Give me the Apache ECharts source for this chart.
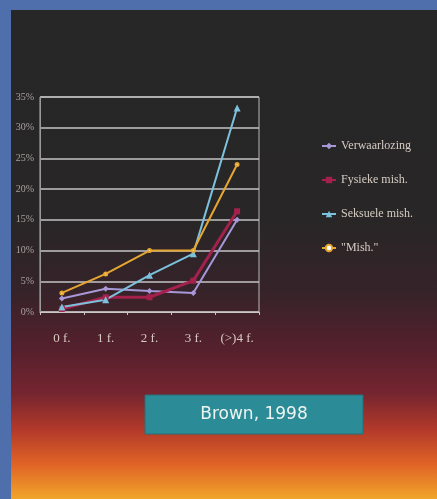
<!DOCTYPE html>
<html><head><meta charset="utf-8">
<script src="https://cdn.jsdelivr.net/npm/echarts@6/dist/echarts.min.js"></script>
<style>html,body{margin:0;padding:0;background:#272727}#c{width:437px;height:499px}</style>
</head><body><div id="c"></div>
<script>
const categories = ['0 f.', '1 f.', '2 f.', '3 f.', '(>)4 f.'];
const verwaarlozing = [2.2, 3.8, 3.4, 3.1, 15];
const fysieke = [0.5, 2.4, 2.4, 5.1, 16.4];
const seksuele = [0.8, 2.0, 6.0, 9.5, 33.2];
const mish = [3.1, 6.2, 10, 10, 24];
const yTicks = [0, 5, 10, 15, 20, 25, 30, 35];

const chart = echarts.init(document.getElementById('c'));
const serif = 'Liberation Serif';
function ser(name, data, color, sym, w, ss) {
  return { name, type: 'line', data, symbol: sym, symbolSize: ss, showSymbol: true,
    lineStyle: { color, width: w }, itemStyle: { color }, z: 3 };
}
chart.setOption({
  backgroundColor: {
    type: 'linear', x: 0, y: 0, x2: 0, y2: 1,
    colorStops: [
      { offset: 0, color: '#272727' },
      { offset: 0.44, color: '#282626' },
      { offset: 0.58, color: '#352329' },
      { offset: 0.7, color: '#55202d' },
      { offset: 0.79, color: '#76252f' },
      { offset: 0.86, color: '#b2392a' },
      { offset: 0.93, color: '#df6326' },
      { offset: 1, color: '#f1a52a' }
    ]
  },
  animation: false,
  graphic: [
    { type: 'rect', shape: { x: 0, y: 0, width: 11, height: 499 }, style: { fill: '#4e6eac' }, z: 10 },
    { type: 'rect', shape: { x: 0, y: 0, width: 437, height: 10 }, style: { fill: '#4e6eac' }, z: 10 },
    { type: 'rect', shape: { x: 145, y: 395, width: 218, height: 39 }, style: { fill: '#2b8b96', stroke: '#22707a', lineWidth: 1 }, z: 10 },
    { type: 'text', x: 254, y: 415, style: { text: 'Brown, 1998', fill: '#eef4f2', font: '17px "DejaVu Sans"', textAlign: 'center', textVerticalAlign: 'middle' }, z: 11 }
  ],
  grid: { left: 40, right: 178, top: 97, bottom: 187, show: true, borderColor: '#b8b8b8', borderWidth: 1 },
  legend: {
    orient: 'vertical', left: 316, top: 135, itemGap: 22, itemWidth: 14, itemHeight: 8,
    textStyle: { color: '#d6ccc4', fontFamily: serif, fontSize: 12 },
    data: ['Verwaarlozing', 'Fysieke mish.', 'Seksuele mish.', '"Mish."']
  },
  xAxis: {
    type: 'category', data: categories, boundaryGap: true,
    axisLine: { lineStyle: { color: '#c8c8c8' } },
    axisTick: { show: true, lineStyle: { color: '#c8c8c8' }, length: 3 },
    axisLabel: { color: '#d8cac2', fontFamily: serif, fontSize: 13, margin: 20 }
  },
  yAxis: {
    type: 'value', min: 0, max: 35, interval: 5,
    axisLine: { show: true, lineStyle: { color: '#9a9a9a' } },
    splitLine: { lineStyle: { color: '#c4c4c4', width: 1.5 } },
    axisLabel: { color: '#a8a0a0', fontFamily: serif, fontSize: 10, margin: 6, formatter: v => v + '%' }
  },
  series: [
    ser('Verwaarlozing', verwaarlozing, '#a898d8', 'diamond', 2, 6),
    ser('Fysieke mish.', fysieke, '#a3214c', 'rect', 3, 6),
    ser('Seksuele mish.', seksuele, '#7cc2dc', 'triangle', 2, 7),
    ser('"Mish."', mish, '#e6a632', 'emptyCircle', 2, 3)
  ]
});
</script></body></html>
